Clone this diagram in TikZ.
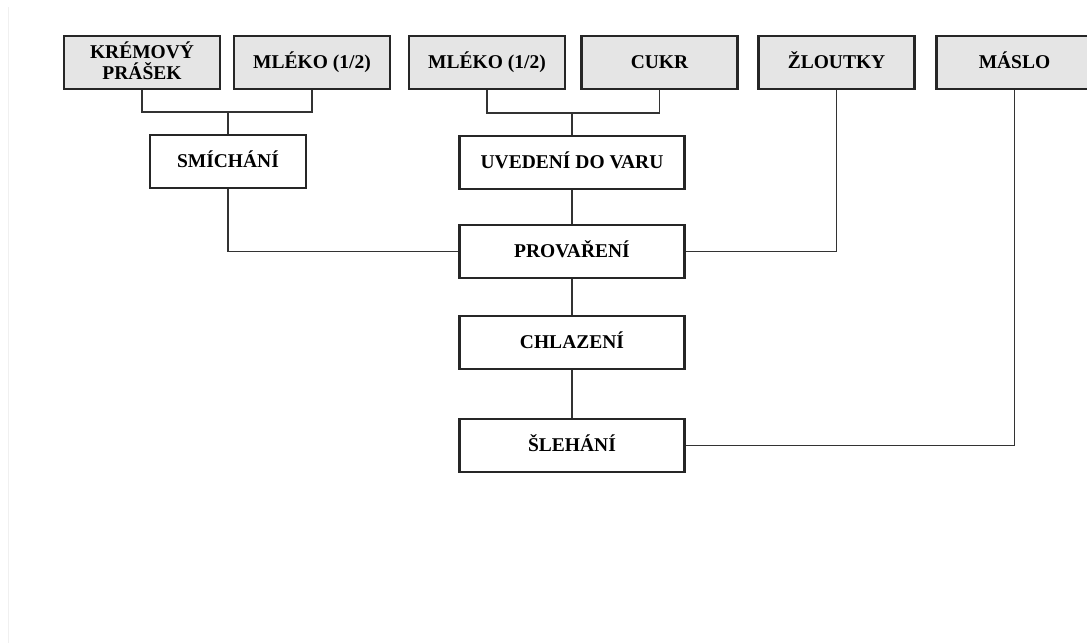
\documentclass[tikz,border=0pt]{standalone}
\usepackage{fontspec}
\setmainfont{Liberation Serif}
\begin{document}
\begin{tikzpicture}[x=1pt,y=-1pt,
  stepbox/.style={draw=black!85,line width=2.1pt,fill=white,minimum height=53pt,
    inner sep=0pt,align=center,text height=12.6pt,text depth=0pt,
    font=\fontsize{19.5}{21}\selectfont\bfseries},
  inbox/.style={stepbox,fill=black!10,minimum width=156pt},
  wide/.style={stepbox,minimum width=225pt},
  link/.style={draw=black!80,line width=1.8pt}]
\useasboundingbox (0,0) rectangle (1087,643);
\clip (0,0) rectangle (1087,643);
\fill[white] (0,0) rectangle (1087,643);
% faint page edge on the left
\draw[black!6,line width=1pt] (8.5,7) -- (8.5,643);

% ingredients
\node[inbox,text height=33.6pt] (kp) at (142,62.5) {KRÉMOVÝ\\PRÁŠEK};
\node[inbox] (m1) at (312,62.5) {MLÉKO (1/2)};
\node[inbox] (m2) at (487,62.5) {MLÉKO (1/2)};
\node[inbox] (cukr) at (659.5,62.5) {CUKR};
\node[inbox] (zl) at (836.5,62.5) {ŽLOUTKY};
\node[inbox] (maslo) at (1014.5,62.5) {MÁSLO};

% process steps
\node[stepbox,minimum width=156pt] (smich) at (228,161.5) {SMÍCHÁNÍ};
\node[wide] (uved) at (572,162.5) {UVEDENÍ DO VARU};
\node[wide] (prov) at (572,251.5) {PROVAŘENÍ};
\node[wide] (chl) at (572,342.5) {CHLAZENÍ};
\node[wide] (sleh) at (572,445.5) {ŠLEHÁNÍ};

% junctions
\coordinate (j1) at (228,112);
\coordinate (j2) at (572,113);

% connectors
\draw[link] (kp.south) |- (j1) -| (m1.south);
\draw[link] (j1) -- (smich.north);
\draw[link] (m2.south) |- (j2) -| (cukr.south);
\draw[link] (j2) -- (uved.north);
\draw[link] (smich.south) |- (prov.west);
\draw[link] (zl.south) |- (prov.east);
\draw[link] (uved.south) -- (prov.north);
\draw[link] (prov.south) -- (chl.north);
\draw[link] (chl.south) -- (sleh.north);
\draw[link] (maslo.south) |- (sleh.east);
\end{tikzpicture}
\end{document}
